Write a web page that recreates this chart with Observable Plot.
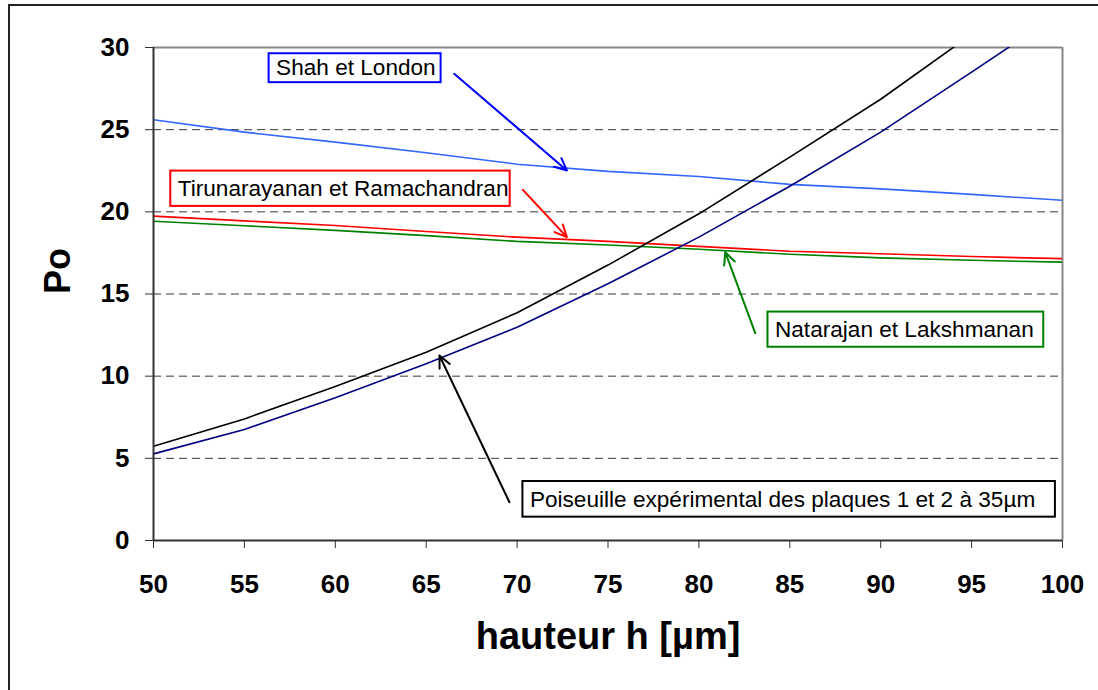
<!DOCTYPE html>
<html><head><meta charset="utf-8">
<script src="https://cdn.jsdelivr.net/npm/d3@7"></script>
<script src="https://cdn.jsdelivr.net/npm/@observablehq/plot@0.6"></script>
<style>
html,body{margin:0;padding:0;background:#fff;overflow:hidden;width:1098px;height:690px}
#chart{position:absolute;left:0;top:0}
#border{position:absolute;left:8px;top:4px;width:1200px;height:800px;border:2px solid #222;pointer-events:none}
</style></head><body><div id="chart"></div><div id="border"></div>
<script>
// ---- data ----
const hauteur = [50, 55, 60, 65, 70, 75, 80, 85, 90, 95, 100];
const shahLondon = [25.6, 24.85, 24.24, 23.6, 22.9, 22.46, 22.15, 21.67, 21.4, 21.06, 20.7];
const tirunarayanan = [19.74, 19.45, 19.17, 18.8, 18.46, 18.2, 17.9, 17.6, 17.45, 17.28, 17.15];
const natarajan = [19.43, 19.15, 18.87, 18.55, 18.2, 17.98, 17.72, 17.42, 17.2, 17.05, 16.94];
const poiseuilleExp1 = [5.74, 7.4, 9.37, 11.46, 13.86, 16.76, 19.88, 23.33, 26.85, 30.8, 35.0];
const poiseuilleExp2 = [5.27, 6.76, 8.68, 10.75, 12.98, 15.62, 18.46, 21.56, 24.85, 28.5, 32.2];
const xTicks = [50, 55, 60, 65, 70, 75, 80, 85, 90, 95, 100];
const yTicks = [0, 5, 10, 15, 20, 25, 30];
const xTitle = "hauteur h [µm]";
const yTitle = "Po";
const labels = ["Shah et London", "Tirunarayanan et Ramachandran", "Natarajan et Lakshmanan", "Poiseuille expérimental des plaques 1 et 2 à 35µm"];
const labelColors = ["#0000ff", "#ff0000", "#008000", "#000000"];
// label boxes (data units): left, right, top, bottom
const boxX1 = [56.36, 50.95, 83.80, 70.32];
const boxX2 = [65.82, 69.62, 98.97, 99.61];
const boxY1 = [29.62, 22.48, 13.90, 3.59];
const boxY2 = [27.86, 20.33, 11.76, 1.42];
// arrows (data units): from -> to
const arrowX1 = [66.54, 70.32, 83.10, 69.58];
const arrowY1 = [28.40, 21.34, 12.62, 2.33];
const arrowX2 = [72.74, 72.74, 81.45, 65.73];
const arrowY2 = [22.52, 18.46, 17.55, 11.26];

const series = [
  {values: shahLondon, color: "#3366ff"},
  {values: tirunarayanan, color: "#ff0000"},
  {values: natarajan, color: "#008000"},
  {values: poiseuilleExp1, color: "#000000"},
  {values: poiseuilleExp2, color: "#000080"}
];

const annots = labels.map((l, i) => ({
  label: l, color: labelColors[i],
  bx1: boxX1[i], bx2: boxX2[i], by1: boxY1[i], by2: boxY2[i],
  ax1: arrowX1[i], ay1: arrowY1[i], ax2: arrowX2[i], ay2: arrowY2[i]
}));

const marks = [];
marks.push(Plot.gridY(yTicks.filter(t => t > 0 && t < 30), {stroke: "#222", strokeOpacity: 0.9, strokeDasharray: "8,5", strokeWidth: 1}));
marks.push(Plot.ruleY([yTicks[yTicks.length - 1]], {stroke: "#888", strokeWidth: 2}));
marks.push(Plot.ruleX([xTicks[xTicks.length - 1]], {stroke: "#888", strokeWidth: 2}));
for (const s of series) {
  const rows = hauteur.map((x, i) => ({h: x, po: s.values[i]}));
  marks.push(Plot.line(rows, {x: "h", y: "po", stroke: s.color, strokeWidth: 1.6, clip: true}));
}
marks.push(Plot.ruleX([xTicks[0]], {stroke: "#333", strokeWidth: 2}));
marks.push(Plot.ruleY([yTicks[0]], {stroke: "#333", strokeWidth: 2}));
for (const a of annots) {
  marks.push(Plot.arrow([a], {x1: "ax1", y1: "ay1", x2: "ax2", y2: "ay2", stroke: a.color, strokeWidth: 2, headLength: 10, headAngle: 50}));
}
for (const a of annots) {
  marks.push(Plot.rect([a], {x1: "bx1", x2: "bx2", y1: "by1", y2: "by2", fill: "#fff", stroke: a.color, strokeWidth: 2}));
  marks.push(Plot.text([a], {x: "bx1", y: d => (d.by1 + d.by2) / 2, text: "label", textAnchor: "start", dx: 7, fontSize: 22.6, fill: "#000"}));
}
marks.push(Plot.axisX(xTicks, {tickSize: 8, tickPadding: 26, fontSize: 26, fontWeight: "bold", label: null, stroke: "#333", fill: "#000"}));
marks.push(Plot.axisY(yTicks, {tickSize: 8, tickPadding: 16, fontSize: 26, fontWeight: "bold", label: null, stroke: "#333", fill: "#000"}));
marks.push(Plot.text([yTitle], {frameAnchor: "left", dx: -95, rotate: -90, fontSize: 36, fontWeight: "bold", text: d => d, fill: "#000"}));
marks.push(Plot.text([xTitle], {frameAnchor: "bottom", dy: 108, fontSize: 38, fontWeight: "bold", text: d => d, fill: "#000"}));

const chart = Plot.plot({
  width: 1098, height: 690,
  marginLeft: 153, marginRight: 36, marginTop: 47, marginBottom: 150,
  x: {domain: [50, 100]},
  y: {domain: [0, 30]},
  style: {fontFamily: "'Liberation Sans', Arial, sans-serif", background: "transparent", color: "#000"},
  marks
});
document.getElementById("chart").appendChild(chart);
</script></body></html>
